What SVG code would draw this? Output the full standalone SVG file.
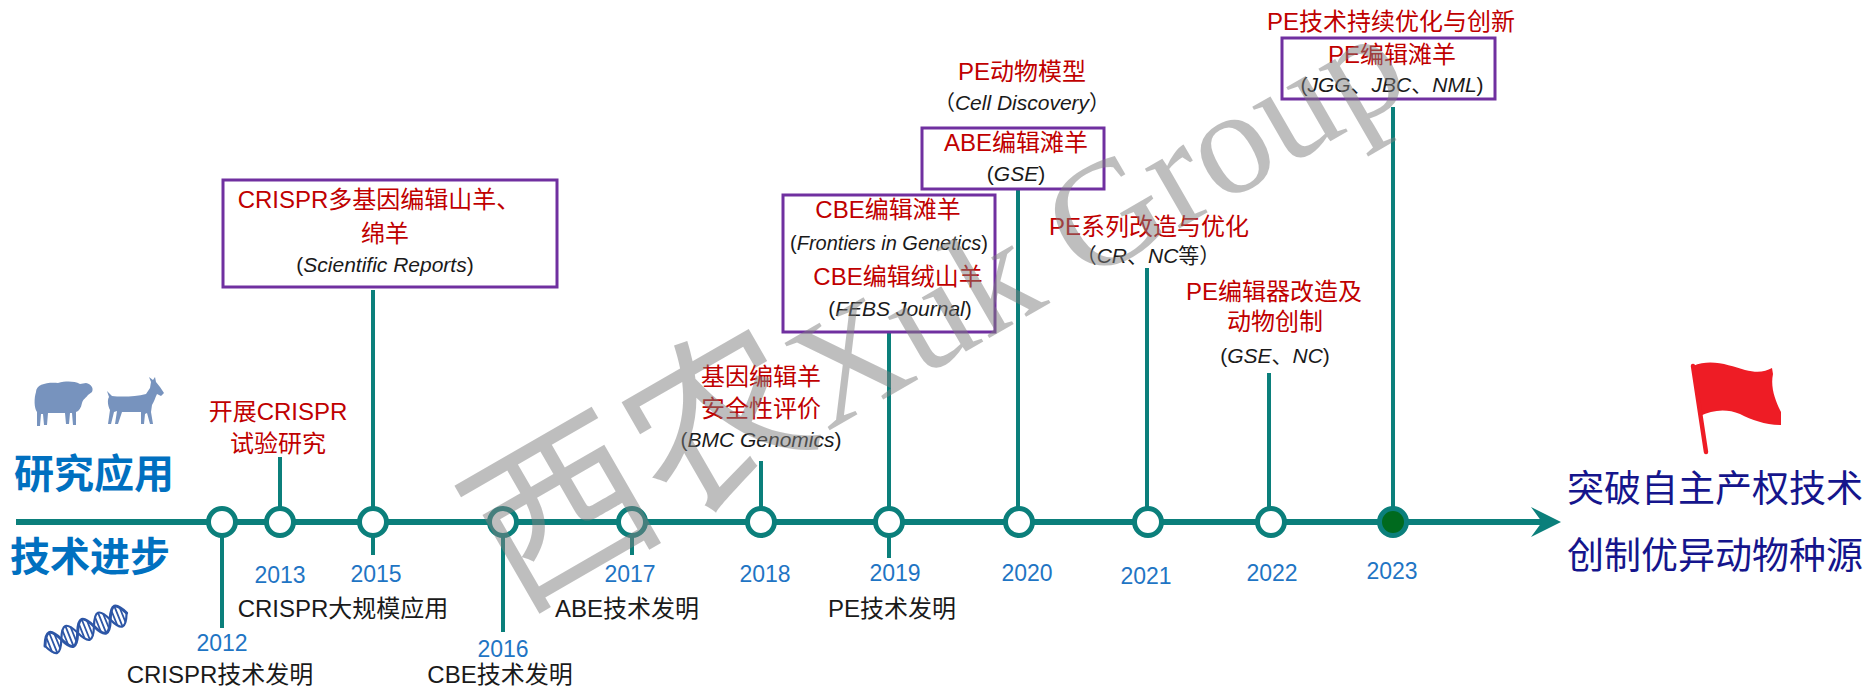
<svg xmlns="http://www.w3.org/2000/svg" width="1871" height="688" viewBox="0 0 1871 688">
  <defs>
    <style>
      text { font-family: "Liberation Sans", "Noto Sans CJK SC", sans-serif; }
      .axis { stroke: #0B7F7B; stroke-width: 6; fill: none; }
      .stem { stroke: #0B7F7B; stroke-width: 4; fill: none; }
      .dot { fill: #ffffff; stroke: #0B7F7B; stroke-width: 5; }
      .dot-now { fill: #006A1E; stroke: #0B7F7B; stroke-width: 5; }
      .yr { font-size: 23px; fill: #1F75C4; text-anchor: middle; }
      .ev { font-size: 24px; fill: #1A1A1A; text-anchor: middle; }
      .red { font-size: 24px; fill: #C00000; text-anchor: middle; }
      .ref { font-size: 21px; fill: #1A1A1A; text-anchor: middle; }
      .it { font-style: italic; }
      .box { fill: none; stroke: #7030A0; stroke-width: 3; }
      .side { font-size: 40px; font-weight: bold; fill: #0070C0; font-family: "Noto Sans CJK SC", sans-serif; }
      .goal { font-size: 37px; fill: #15158C; font-family: "Noto Sans CJK SC", sans-serif; }
      .dna { stroke: #2D56A6; fill: none; stroke-linecap: round; }
    </style>
  </defs>
  <rect width="1871" height="688" fill="#ffffff"/>

  <!-- timeline axis, stems and arrowhead -->
  <g id="connectors">
    <path class="axis" d="M16,522 H1545"/>
    <path fill="#0B7F7B" d="M1561,522 L1531,507 L1542,522 L1531,537 Z"/>
    <path class="stem" d="M222,522 V628"/>
    <path class="stem" d="M280,522 V457"/>
    <path class="stem" d="M373,522 V290 M373,522 V555"/>
    <path class="stem" d="M503,522 V632"/>
    <path class="stem" d="M632,522 V555"/>
    <path class="stem" d="M761,522 V461"/>
    <path class="stem" d="M889,522 V332 M889,522 V558"/>
    <path class="stem" d="M1018,522 V188"/>
    <path class="stem" d="M1147,522 V268"/>
    <path class="stem" d="M1269,522 V373"/>
    <path class="stem" d="M1393,522 V107"/>
  </g>

  <!-- left side headings and icons -->
  <g id="side-research">
    <path fill="#7793BE" d="M36,392 C36,384 48,382 58,383 C66,381 74,381 80,384 L86,383 C91,384 94,388 92,392 L88,395 C86,398 83,399 82,403 C81,408 79,411 76,412 L76,425 L73,425 L72,413 L70,413 L69,424 L66,424 L65,413 L48,413 L47,425 L44,425 L43,414 L41,414 L40,426 L37,426 L37,412 C34,408 34,398 36,392 Z"/>
    <path fill="#7793BE" d="M107,391 L112,396 C120,397 135,397 146,394 L150,388 L151,382 L149,377 L153,380 L155,377 L156,382 L160,387 L164,393 L161,396 L157,394 C155,398 154,402 152,405 L151,412 L153,424 L150,424 L147,413 L145,414 L144,424 L141,424 L141,412 L122,412 L118,424 L115,424 L117,411 L114,412 L111,424 L108,424 L110,410 C108,406 107,400 109,397 Z"/>
    <text class="side" x="14" y="488">研究应用</text>
  </g>
  <g id="side-tech">
    <text class="side" x="10" y="571">技术进步</text>
    <g transform="translate(45,646) rotate(-22)">
      <path class="dna" stroke-width="3" d="M0,0 C6.3,-14.6 11.3,-14.6 17.6,0 C23.9,14.6 28.9,14.6 35.2,0 C41.5,-14.6 46.5,-14.6 52.8,0 C59.1,14.6 64.1,14.6 70.4,0 C76.7,-14.6 81.7,-14.6 88,0"/>
      <path class="dna" stroke-width="2.2" d="M0,0 C6.3,14.6 11.3,14.6 17.6,0 C23.9,-14.6 28.9,-14.6 35.2,0 C41.5,14.6 46.5,14.6 52.8,0 C59.1,-14.6 64.1,-14.6 70.4,0 C76.7,14.6 81.7,14.6 88,0"/>
      <path class="dna" stroke-width="1.8" d="M4.4,-7.5 V7.5 M8.8,-10.5 V10.5 M13.2,-7.5 V7.5 M22,-7.5 V7.5 M26.4,-10.5 V10.5 M30.8,-7.5 V7.5 M39.6,-7.5 V7.5 M44,-10.5 V10.5 M48.4,-7.5 V7.5 M57.2,-7.5 V7.5 M61.6,-10.5 V10.5 M66,-7.5 V7.5 M74.8,-7.5 V7.5 M79.2,-10.5 V10.5 M83.6,-7.5 V7.5"/>
    </g>
  </g>

  <!-- milestones -->
  <g id="y2012">
    <circle class="dot" cx="222" cy="522" r="13.5"/>
    <text class="yr" x="222" y="651">2012</text>
    <text class="ev" x="220" y="683">CRISPR技术发明</text>
  </g>
  <g id="y2013">
    <circle class="dot" cx="280" cy="522" r="13.5"/>
    <text class="yr" x="280" y="583">2013</text>
    <text class="ev" x="343" y="617">CRISPR大规模应用</text>
    <text class="red" x="278" y="420">开展CRISPR</text>
    <text class="red" x="278" y="452">试验研究</text>
  </g>
  <g id="y2015">
    <circle class="dot" cx="373" cy="522" r="13.5"/>
    <text class="yr" x="376" y="582">2015</text>
    <rect class="box" x="223" y="180" width="334" height="107"/>
    <text class="red" x="379" y="208">CRISPR多基因编辑山羊、</text>
    <text class="red" x="385" y="242">绵羊</text>
    <text class="ref" x="385" y="272">(<tspan class="it">Scientific Reports</tspan>)</text>
  </g>
  <g id="y2016">
    <circle class="dot" cx="503" cy="522" r="13.5"/>
    <text class="yr" x="503" y="657">2016</text>
    <text class="ev" x="500" y="683">CBE技术发明</text>
  </g>
  <g id="y2017">
    <circle class="dot" cx="632" cy="522" r="13.5"/>
    <text class="yr" x="630" y="582">2017</text>
    <text class="ev" x="627" y="617">ABE技术发明</text>
  </g>
  <g id="y2018">
    <circle class="dot" cx="761" cy="522" r="13.5"/>
    <text class="yr" x="765" y="582">2018</text>
    <text class="red" x="761" y="385">基因编辑羊</text>
    <text class="red" x="761" y="417">安全性评价</text>
    <text class="ref" x="761" y="447">(<tspan class="it">BMC Genomics</tspan>)</text>
  </g>
  <g id="y2019">
    <circle class="dot" cx="889" cy="522" r="13.5"/>
    <text class="yr" x="895" y="581">2019</text>
    <text class="ev" x="892" y="617">PE技术发明</text>
    <rect class="box" x="783" y="195" width="212" height="137"/>
    <text class="red" x="888" y="218">CBE编辑滩羊</text>
    <text class="ref" x="889" y="250" style="font-size:20px">(<tspan class="it">Frontiers in Genetics</tspan>)</text>
    <text class="red" x="898" y="285">CBE编辑绒山羊</text>
    <text class="ref" x="900" y="316">(<tspan class="it">FEBS Journal</tspan>)</text>
  </g>
  <g id="y2020">
    <circle class="dot" cx="1019" cy="522" r="13.5"/>
    <text class="yr" x="1027" y="581">2020</text>
    <text class="red" x="1022" y="80">PE动物模型</text>
    <text class="ref" x="1022" y="110">（<tspan class="it">Cell Discovery</tspan>）</text>
    <rect class="box" x="922" y="128" width="182" height="61"/>
    <text class="red" x="1016" y="151">ABE编辑滩羊</text>
    <text class="ref" x="1016" y="181">(<tspan class="it">GSE</tspan>)</text>
  </g>
  <g id="y2021">
    <circle class="dot" cx="1148" cy="522" r="13.5"/>
    <text class="yr" x="1146" y="584">2021</text>
    <text class="red" x="1149" y="235">PE系列改造与优化</text>
    <text class="ref" x="1148" y="263">（<tspan class="it">CR</tspan>、<tspan class="it">NC</tspan>等）</text>
  </g>
  <g id="y2022">
    <circle class="dot" cx="1271" cy="522" r="13.5"/>
    <text class="yr" x="1272" y="581">2022</text>
    <text class="red" x="1274" y="300">PE编辑器改造及</text>
    <text class="red" x="1275" y="330">动物创制</text>
    <text class="ref" x="1275" y="363">(<tspan class="it">GSE</tspan>、<tspan class="it">NC</tspan>)</text>
  </g>
  <g id="y2023">
    <circle class="dot-now" cx="1393" cy="522" r="13.5"/>
    <text class="yr" x="1392" y="579">2023</text>
    <text class="red" x="1391" y="30">PE技术持续优化与创新</text>
    <rect class="box" x="1282" y="38" width="213" height="61"/>
    <text class="red" x="1392" y="63">PE编辑滩羊</text>
    <text class="ref" x="1392" y="92">(<tspan class="it">JGG</tspan>、<tspan class="it">JBC</tspan>、<tspan class="it">NML</tspan>)</text>
  </g>

  <!-- goal at the end of the timeline -->
  <g id="goal">
    <path fill="#EE1C25" d="M1693,366 C1712,358 1730,366 1745,370 C1757,373 1765,372 1772,368 L1773,374 C1770,388 1776,402 1781,412 L1781,425 C1765,425 1752,420 1740,414 C1726,408 1712,410 1700,416 Z"/>
    <path stroke="#EE1C25" stroke-width="4.5" stroke-linecap="round" d="M1693,366 L1706,452"/>
    <text class="goal" x="1567" y="502">突破自主产权技术</text>
    <text class="goal" x="1567" y="569">创制优异动物种源</text>
  </g>

  <!-- watermark -->
  <g id="watermark" opacity="0.5">
    <text x="515" y="612" transform="rotate(-30 515 612)" fill="#7F7F7F" style="font-family: 'Liberation Serif', 'Noto Sans CJK SC', serif;"><tspan font-size="180">西农</tspan><tspan font-size="150">Xuk Group</tspan></text>
  </g>
</svg>
